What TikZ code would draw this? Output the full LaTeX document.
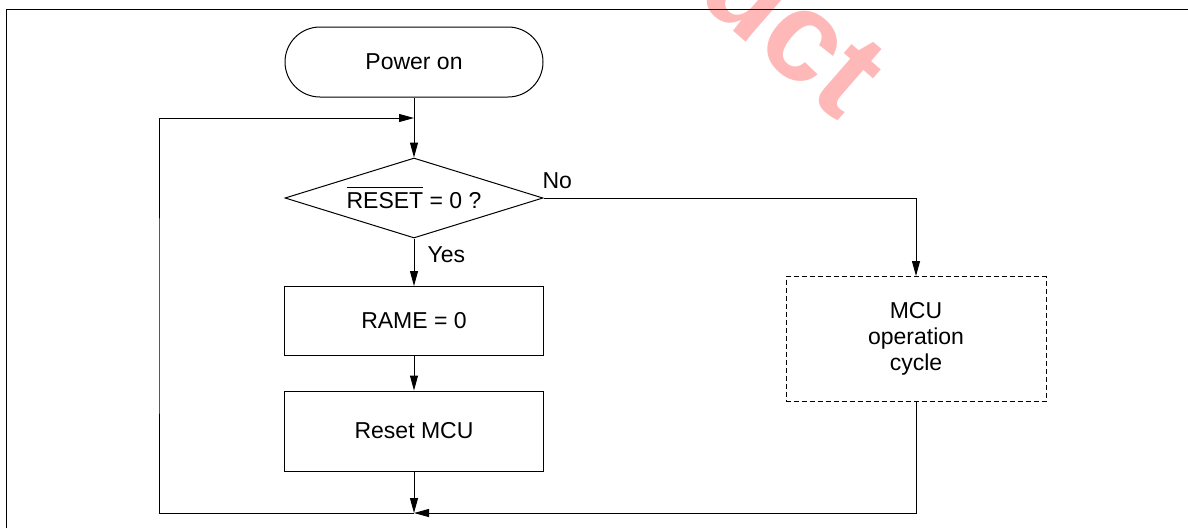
\documentclass[tikz,border=0pt]{standalone}
\usepackage{fontspec}
\setmainfont{Liberation Sans}
\usetikzlibrary{arrows.meta,shapes.geometric}

% bar over an active-low signal name
\newcommand\barred[1]{\vbox{\hrule height 1pt\kern 4pt\hbox{#1}}}

\begin{document}
\begin{tikzpicture}[x=1pt,y=-1pt,line width=1pt,
    every node/.style={font=\fontsize{23}{26}\selectfont},
    flowbox/.style={draw, rectangle, minimum width=259pt, inner sep=0pt},
    flowarrow/.style={-{Triangle[length=15pt,width=8pt]}}]

    % Fix the picture size
    \useasboundingbox (0,0) rectangle (1188,528);

    % Watermark, cut off by the page edge
    \node[rotate=-41, text=red!28, anchor=base west, inner sep=0pt,
          font=\fontsize{128}{128}\selectfont\bfseries] (mark) at (634,-55) {duct};

    % Frame lines along the top and the left side
    \draw (6,528) -- (6,9) -- (1188,9);

    % Start terminal
    \node[draw, rounded corners=35pt, minimum width=258pt, minimum height=70pt] (power) at (414,62) {Power on};

    % Decision
    \node[draw, diamond, aspect=3.2, minimum width=258pt, minimum height=80pt, inner sep=0pt] (check) at (414,198) {\barred{RESET} = 0 ?};

    % Action boxes
    \node[flowbox, minimum height=69pt] (rame) at (414,321) {RAME = 0};
    \node[flowbox, minimum height=80pt] (reset) at (414,431) {Reset MCU};

    % Normal operation, drawn dashed
    \node[flowbox, dash pattern=on 5pt off 3pt, minimum width=260pt, minimum height=125pt, align=center] (cycle) at (916,339) {MCU\\operation\\cycle};

    % Points where the lines meet
    \coordinate (loopin) at (414,118);
    \coordinate (join) at (414,513);
    \coordinate (loopleft) at (159,316);

    % Main flow
    \draw[flowarrow] (power) -- (check);
    \draw[flowarrow] (check) -- (rame);
    \draw[flowarrow] (rame) -- (reset);
    \draw[flowarrow] (reset) -- (join);

    % No branch
    \draw[flowarrow] (check.east) -| (cycle);
    \draw[flowarrow] (cycle) |- (join);

    % Loop back to the decision
    \draw[flowarrow] (join) -| (loopleft) |- (loopin);

    % Branch labels
    \node[anchor=base west, inner sep=0pt] (no) at (542,188) {No};
    \node[anchor=base west, inner sep=0pt] (yes) at (427,262) {Yes};

\end{tikzpicture}
\end{document}
